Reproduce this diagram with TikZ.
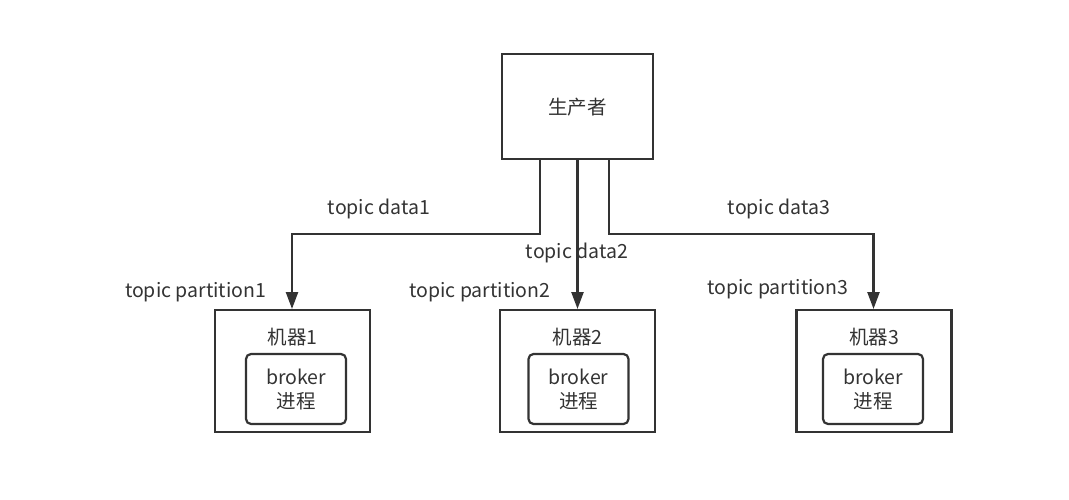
\documentclass[tikz,border=0pt]{standalone}
\usepackage{fontspec}
\setmainfont{Noto Sans CJK SC}
\usetikzlibrary{arrows.meta}
\definecolor{ink}{HTML}{333333}
\begin{document}
\begin{tikzpicture}[x=1pt,y=-1pt,
  box/.style={draw=ink,line width=2.4pt,inner sep=0pt},
  inner/.style={draw=ink,line width=2.2pt,rounded corners=5pt,inner sep=0pt},
  lbl/.style={text=ink,font=\fontsize{19.5}{24}\selectfont,inner sep=0pt},
  conn/.style={draw=ink,line width=2.4pt,-{Triangle[length=17pt,width=12pt]}}]
\useasboundingbox (0,0) rectangle (1069,500);
\node[box,minimum width=151pt,minimum height=105pt] (prod) at (577.5,106.5) {};
\node[lbl] (prodt) at (577.5,107) {生产者};
\foreach \i/\cx/\ix in {1/292.5/296,2/577.5/578.5,3/874/873}{
  \node[box,minimum width=155pt,minimum height=122pt] (m\i) at (\cx,371) {};
  \node[lbl] (mt\i) at (\cx,337) {机器\i};
  \node[inner,minimum width=100pt,minimum height=70pt] (b\i) at (\ix,389) {};
  \node[lbl,align=center] (bt\i) at (\ix,389) {broker\\进程};
}
\coordinate (s1) at (540,159);
\coordinate (s3) at (609,159);
\draw[conn] (s1) -- (540,234) -| (292,309);
\draw[conn] (prod.south) -- (577.5,309);
\draw[conn] (s3) -- (609,234) -| (873.5,309);
\node[lbl] (l1) at (379,209) {topic data1};
\node[lbl] (l2) at (577,253) {topic data2};
\node[lbl] (l3) at (779,209) {topic data3};
\node[lbl] (p1) at (195.5,292) {topic partition1};
\node[lbl] (p2) at (480,292) {topic partition2};
\node[lbl] (p3) at (778,289) {topic partition3};
\end{tikzpicture}
\end{document}
